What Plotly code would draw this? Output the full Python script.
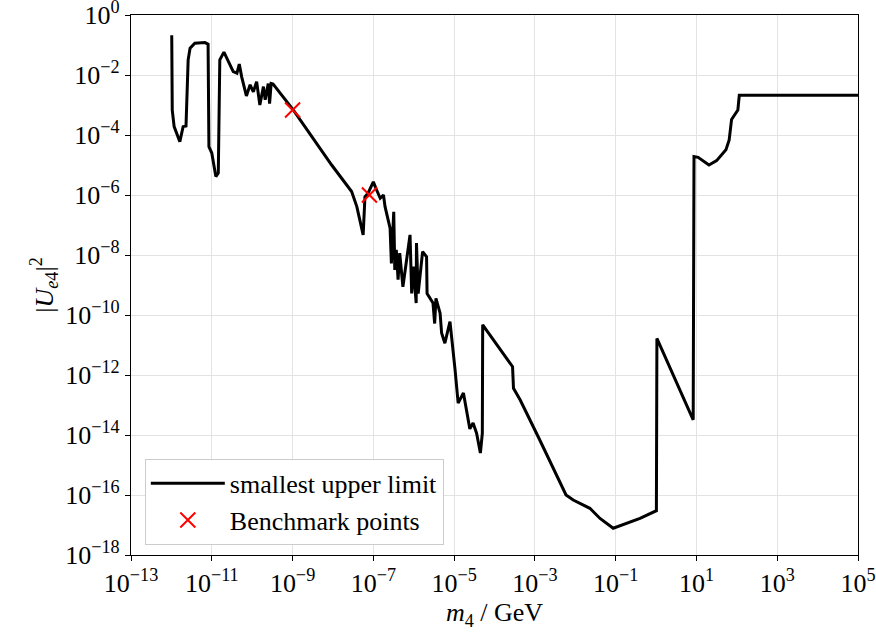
import plotly.graph_objects as go

# Smallest upper limit curve (m4 in GeV, |U_e4|^2)
mass = [
    1.02e-12, 1.05e-12, 1.17e-12, 1.62e-12, 1.95e-12, 2.3e-12, 2.6e-12, 2.9e-12,
    3.8e-12, 6.8e-12, 8.1e-12, 8.5e-12, 1.0e-11, 1.26e-11, 1.45e-11, 1.58e-11,
    2.0e-11, 2.7e-11, 3.4e-11, 4.2e-11, 4.8e-11, 5.5e-11, 7.2e-11, 8.9e-11,
    1.07e-10, 1.29e-10, 1.55e-10, 1.9e-10, 2.1e-10, 2.5e-10, 2.7e-10, 2.95e-10,
    3.3e-10, 1.05e-9, 5.8e-9, 9.3e-9, 2.9e-8, 3.9e-8, 5.6e-8, 6.2e-8,
    7.4e-8, 1.0e-7, 1.2e-7, 1.48e-7, 1.78e-7, 1.95e-7, 2.6e-7, 2.8e-7,
    3.2e-7, 3.4e-7, 3.7e-7, 4.1e-7, 4.5e-7, 5.4e-7, 8.1e-7, 8.9e-7,
    9.8e-7, 1.15e-6, 1.17e-6, 1.29e-6, 1.66e-6, 2.08e-6, 2.14e-6, 3.0e-6,
    3.3e-6, 3.55e-6, 4.5e-6, 4.9e-6, 5.9e-6, 7.9e-6, 1.05e-5, 1.26e-5,
    1.7e-5, 2.45e-5, 2.95e-5, 3.6e-5, 4.47e-5, 5.0e-5, 5.1e-5, 2.2e-4,
    2.8e-4, 2.95e-4, 4.3e-4, 1.32e-3, 3.5e-3, 5.9e-3, 8.9e-3, 2.3e-2,
    4.1e-2, 8.7e-2, 0.40, 1.02, 1.05, 8.3, 8.7, 11.0,
    20.4, 31.6, 53.7, 64.6, 74.1, 97.7, 106.0, 115.0, 1.0e5,
]
u_e4 = [
    0.21, 6.8e-4, 1.9e-4, 6.0e-5, 1.9e-4, 2.0e-4, 3.2e-2, 7.8e-2,
    0.115, 0.12, 0.107, 4.1e-5, 2.5e-5, 4.1e-6, 5.4e-6, 3.2e-2,
    5.8e-2, 2.5e-2, 1.3e-2, 1.15e-2, 2.3e-2, 8.7e-3, 2.0e-3, 4.7e-3,
    2.75e-3, 6.0e-3, 1.0e-3, 4.1e-3, 1.5e-3, 5.2e-3, 1.1e-3, 5.2e-3,
    5.0e-3, 6.8e-4, 2.5e-5, 1.0e-5, 1.3e-6, 4.1e-7, 4.7e-8, 8.7e-7,
    1.15e-6, 2.75e-6, 1.5e-6, 7.8e-7, 1.0e-6, 4.1e-7, 7.8e-8, 5.2e-9,
    2.75e-7, 3.2e-9, 1.5e-8, 1.5e-9, 1.15e-8, 8.7e-10, 4.7e-8, 5.2e-10,
    4.1e-9, 2.5e-10, 2.5e-8, 5.2e-10, 1.3e-8, 8.7e-9, 5.2e-10, 2.5e-10,
    5.2e-11, 3.6e-10, 1.15e-10, 2.5e-11, 1.15e-11, 6.0e-11, 1.6e-12, 1.15e-13,
    2.5e-13, 1.6e-14, 2.5e-14, 1.15e-14, 2.5e-15, 1.15e-14, 4.7e-11, 3.2e-12,
    1.9e-12, 3.6e-13, 1.5e-13, 6.8e-15, 4.1e-16, 1.0e-16, 6.8e-17, 3.6e-17,
    1.65e-17, 7.8e-18, 1.65e-17, 3.0e-17, 1.65e-11, 3.2e-14, 1.9e-5, 1.8e-5,
    1.0e-5, 1.4e-5, 3.2e-5, 6.8e-5, 3.3e-4, 5.5e-4, 6.8e-4, 2.1e-3, 2.1e-3,
]

# Benchmark points
bench_mass = [1.0e-9, 8.0e-8]
bench_u = [6.8e-4, 1.0e-6]

x_ticks = [1e-13, 1e-11, 1e-9, 1e-7, 1e-5, 1e-3, 1e-1, 1e1, 1e3, 1e5]
x_labels = ["10<sup>−13</sup>", "10<sup>−11</sup>", "10<sup>−9</sup>", "10<sup>−7</sup>",
            "10<sup>−5</sup>", "10<sup>−3</sup>", "10<sup>−1</sup>", "10<sup>1</sup>",
            "10<sup>3</sup>", "10<sup>5</sup>"]
y_ticks = [1e0, 1e-2, 1e-4, 1e-6, 1e-8, 1e-10, 1e-12, 1e-14, 1e-16, 1e-18]
y_labels = ["10<sup>0</sup>", "10<sup>−2</sup>", "10<sup>−4</sup>", "10<sup>−6</sup>",
            "10<sup>−8</sup>", "10<sup>−10</sup>", "10<sup>−12</sup>", "10<sup>−14</sup>",
            "10<sup>−16</sup>", "10<sup>−18</sup>"]

FONT = "Liberation Serif"
FS = 26

fig = go.Figure()
fig.add_trace(go.Scatter(
    x=mass, y=u_e4, mode="lines", name="smallest upper limit",
    line=dict(color="black", width=3),
))
fig.add_trace(go.Scatter(
    x=bench_mass, y=bench_u, mode="markers", name="Benchmark points",
    marker=dict(symbol="x-thin", size=15, color="red", line=dict(color="red", width=2)),
))

axis_common = dict(
    type="log", showline=True, linecolor="black", linewidth=1.3, mirror=True,
    ticks="outside", ticklen=5, tickwidth=1.3, tickcolor="black",
    showgrid=True, gridcolor="#e3e3e3", gridwidth=1, zeroline=False,
    tickfont=dict(family=FONT, size=FS, color="black"), automargin=False,
    ticklabeloverflow="allow",
)

fig.update_layout(
    width=876, height=634,
    margin=dict(l=131, r=18, t=15, b=79),
    paper_bgcolor="white", plot_bgcolor="white",
    font=dict(family=FONT, size=FS, color="black"),
    xaxis=dict(
        range=[-13, 5], tickvals=x_ticks, ticktext=x_labels,
        title=dict(text="<i>m</i><sub>4</sub> / GeV", font=dict(family=FONT, size=FS), standoff=4),
        **axis_common,
    ),
    yaxis=dict(
        range=[-18, 0], tickvals=y_ticks, ticktext=y_labels,
        title=dict(text="|<i>U</i><sub><i>e</i>4</sub>|<sup>2</sup>", font=dict(family=FONT, size=FS), standoff=4),
        **axis_common,
    ),
    legend=dict(
        x=0.019, y=0.178, xanchor="left", yanchor="top",
        bgcolor="white", bordercolor="#cccccc", borderwidth=1,
        font=dict(family=FONT, size=FS, color="black"),
        itemwidth=74, tracegroupgap=0,
    ),
    showlegend=True,
)

fig.write_html("out.html")
